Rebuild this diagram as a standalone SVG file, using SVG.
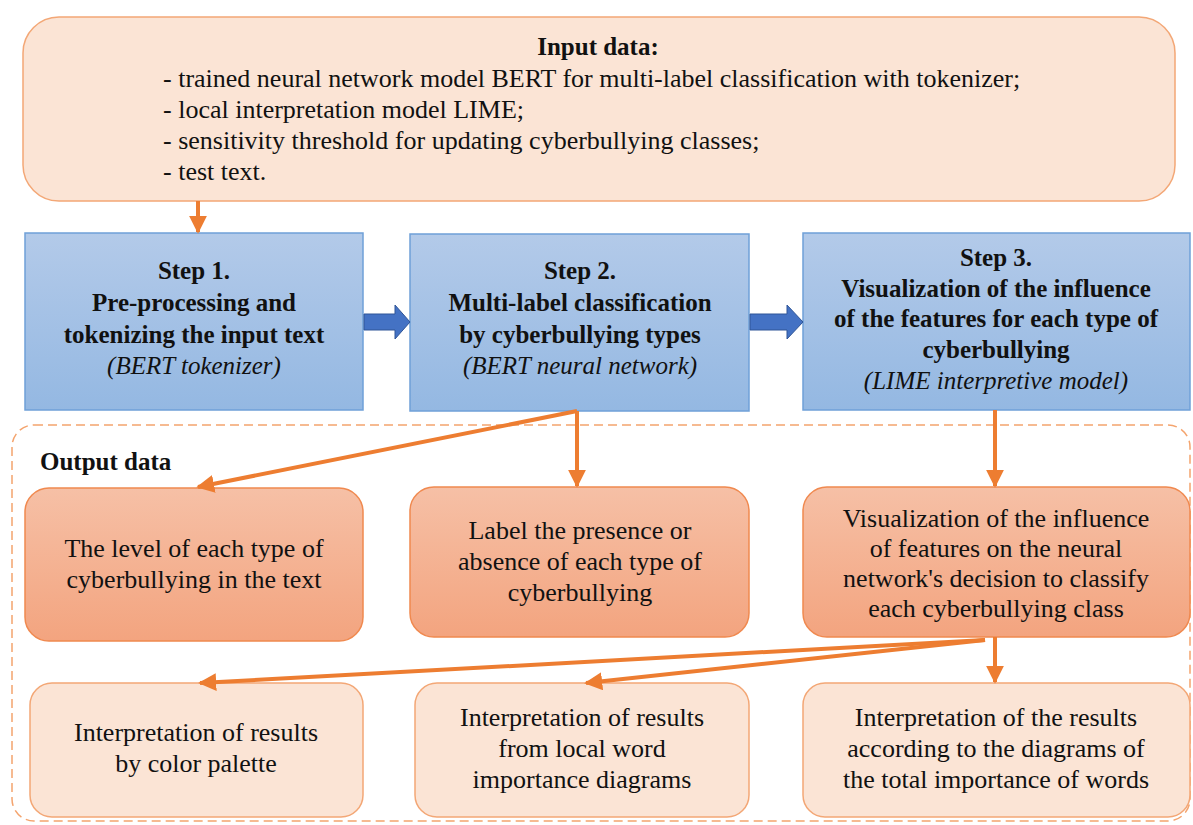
<svg xmlns="http://www.w3.org/2000/svg" width="1193" height="825" viewBox="0 0 1193 825">
<defs>
<linearGradient id="gBlue" x1="0" y1="0" x2="0" y2="1">
<stop offset="0" stop-color="#B3CAE9"/>
<stop offset="1" stop-color="#94B8E2"/>
</linearGradient>
<linearGradient id="gSalmon" x1="0" y1="0" x2="0" y2="1">
<stop offset="0" stop-color="#F6C0A6"/>
<stop offset="1" stop-color="#F3A47F"/>
</linearGradient>
<marker id="ah" viewBox="0 0 10 10" refX="9" refY="5" markerWidth="4.5" markerHeight="4.5" orient="auto" markerUnits="strokeWidth">
<path d="M0,0 L10,5 L0,10 z" fill="#ED7D31"/>
</marker>
</defs>
<rect width="1193" height="825" fill="#fff"/>
<g id="output-container">
<rect x="12" y="425" width="1178" height="396" rx="22" fill="none" stroke="#F4A46E" stroke-width="1.5" stroke-dasharray="9,5"/>
<text font-family="Times New Roman" font-size="25" font-weight="bold" fill="#111" x="40" y="470">Output data</text>
</g>
<g id="input">
<rect fill="#FBE4D5" stroke="#F3A776" stroke-width="1.5" x="23" y="17" width="1152" height="184" rx="36"/>
<text font-family="Times New Roman" font-size="25" font-weight="bold" fill="#111" text-anchor="middle" x="598" y="55">Input data:</text>
<text font-family="Times New Roman" font-size="26" fill="#111" x="163" y="87">- trained neural network model BERT for multi-label classification with tokenizer;</text>
<text font-family="Times New Roman" font-size="26" fill="#111" x="163" y="118">- local interpretation model LIME;</text>
<text font-family="Times New Roman" font-size="26" fill="#111" x="163" y="149">- sensitivity threshold for updating cyberbullying classes;</text>
<text font-family="Times New Roman" font-size="26" fill="#111" x="163" y="180">- test text.</text>
</g>
<g id="step1">
<rect fill="url(#gBlue)" stroke="#6FA0D8" stroke-width="1.5" x="25" y="233" width="338" height="177"/>
<text font-family="Times New Roman" font-size="25" font-weight="bold" fill="#111" text-anchor="middle" x="194" y="279">Step 1.</text>
<text font-family="Times New Roman" font-size="25" font-weight="bold" fill="#111" text-anchor="middle" x="194" y="311">Pre-processing and</text>
<text font-family="Times New Roman" font-size="25" font-weight="bold" fill="#111" text-anchor="middle" x="194" y="343">tokenizing the input text</text>
<text font-family="Times New Roman" font-size="25" font-style="italic" fill="#111" text-anchor="middle" x="194" y="374">(BERT tokenizer)</text>
</g>
<g id="step2">
<rect fill="url(#gBlue)" stroke="#6FA0D8" stroke-width="1.5" x="410" y="234" width="339" height="177"/>
<text font-family="Times New Roman" font-size="25" font-weight="bold" fill="#111" text-anchor="middle" x="580" y="279">Step 2.</text>
<text font-family="Times New Roman" font-size="25" font-weight="bold" fill="#111" text-anchor="middle" x="580" y="311">Multi-label classification</text>
<text font-family="Times New Roman" font-size="25" font-weight="bold" fill="#111" text-anchor="middle" x="580" y="343">by cyberbullying types</text>
<text font-family="Times New Roman" font-size="25" font-style="italic" fill="#111" text-anchor="middle" x="580" y="374">(BERT neural network)</text>
</g>
<g id="step3">
<rect fill="url(#gBlue)" stroke="#6FA0D8" stroke-width="1.5" x="803" y="233" width="387" height="177"/>
<text font-family="Times New Roman" font-size="25" font-weight="bold" fill="#111" text-anchor="middle" x="996" y="266">Step 3.</text>
<text font-family="Times New Roman" font-size="25" font-weight="bold" fill="#111" text-anchor="middle" x="996" y="297">Visualization of the influence</text>
<text font-family="Times New Roman" font-size="25" font-weight="bold" fill="#111" text-anchor="middle" x="996" y="327">of the features for each type of</text>
<text font-family="Times New Roman" font-size="25" font-weight="bold" fill="#111" text-anchor="middle" x="996" y="358">cyberbullying</text>
<text font-family="Times New Roman" font-size="25" font-style="italic" fill="#111" text-anchor="middle" x="996" y="389">(LIME interpretive model)</text>
</g>
<g id="outA">
<rect fill="url(#gSalmon)" stroke="#F0894F" stroke-width="1.5" x="25" y="488" width="338" height="153" rx="24"/>
<text font-family="Times New Roman" font-size="26" fill="#111" text-anchor="middle" x="194" y="557">The level of each type of</text>
<text font-family="Times New Roman" font-size="26" fill="#111" text-anchor="middle" x="194" y="588">cyberbullying in the text</text>
</g>
<g id="outB">
<rect fill="url(#gSalmon)" stroke="#F0894F" stroke-width="1.5" x="410" y="487" width="339" height="150" rx="24"/>
<text font-family="Times New Roman" font-size="26" fill="#111" text-anchor="middle" x="580" y="539">Label the presence or</text>
<text font-family="Times New Roman" font-size="26" fill="#111" text-anchor="middle" x="580" y="570">absence of each type of</text>
<text font-family="Times New Roman" font-size="26" fill="#111" text-anchor="middle" x="580" y="601">cyberbullying</text>
</g>
<g id="outC">
<rect fill="url(#gSalmon)" stroke="#F0894F" stroke-width="1.5" x="803" y="487" width="387" height="150" rx="24"/>
<text font-family="Times New Roman" font-size="26" fill="#111" text-anchor="middle" x="996" y="527">Visualization of the influence</text>
<text font-family="Times New Roman" font-size="26" fill="#111" text-anchor="middle" x="996" y="557">of features on the neural</text>
<text font-family="Times New Roman" font-size="26" fill="#111" text-anchor="middle" x="996" y="587">network's decision to classify</text>
<text font-family="Times New Roman" font-size="26" fill="#111" text-anchor="middle" x="996" y="617">each cyberbullying class</text>
</g>
<g id="outD">
<rect fill="#FBE4D5" stroke="#F3A776" stroke-width="1.5" x="30" y="683" width="333" height="134" rx="22"/>
<text font-family="Times New Roman" font-size="26" fill="#111" text-anchor="middle" x="196" y="741">Interpretation of results</text>
<text font-family="Times New Roman" font-size="26" fill="#111" text-anchor="middle" x="196" y="772">by color palette</text>
</g>
<g id="outE">
<rect fill="#FBE4D5" stroke="#F3A776" stroke-width="1.5" x="415" y="683" width="334" height="134" rx="22"/>
<text font-family="Times New Roman" font-size="26" fill="#111" text-anchor="middle" x="582" y="726">Interpretation of results</text>
<text font-family="Times New Roman" font-size="26" fill="#111" text-anchor="middle" x="582" y="757">from local word</text>
<text font-family="Times New Roman" font-size="26" fill="#111" text-anchor="middle" x="582" y="788">importance diagrams</text>
</g>
<g id="outF">
<rect fill="#FBE4D5" stroke="#F3A776" stroke-width="1.5" x="803" y="683" width="387" height="134" rx="22"/>
<text font-family="Times New Roman" font-size="26" fill="#111" text-anchor="middle" x="996" y="726">Interpretation of the results</text>
<text font-family="Times New Roman" font-size="26" fill="#111" text-anchor="middle" x="996" y="757">according to the diagrams of</text>
<text font-family="Times New Roman" font-size="26" fill="#111" text-anchor="middle" x="996" y="788">the total importance of words</text>
</g>
<g id="connectors" stroke="#ED7D31" stroke-width="4" fill="none">
<line x1="198" y1="201" x2="198" y2="232" marker-end="url(#ah)"/>
<path fill="#4472C4" stroke="#2F5597" stroke-width="1" d="M364,314 H395 V305 L410,322 L395,339 V330 H364 Z"/>
<path fill="#4472C4" stroke="#2F5597" stroke-width="1" d="M750,314 H787 V305 L803,322 L787,339 V330 H750 Z"/>
<line x1="577" y1="411" x2="198" y2="487" marker-end="url(#ah)"/>
<line x1="577" y1="411" x2="577" y2="486" marker-end="url(#ah)"/>
<line x1="995" y1="410" x2="995" y2="486" marker-end="url(#ah)"/>
<line x1="985" y1="640" x2="200" y2="683" marker-end="url(#ah)"/>
<line x1="985" y1="640" x2="586" y2="683" marker-end="url(#ah)"/>
<line x1="995" y1="637" x2="995" y2="682" marker-end="url(#ah)"/>
</g>
</svg>
